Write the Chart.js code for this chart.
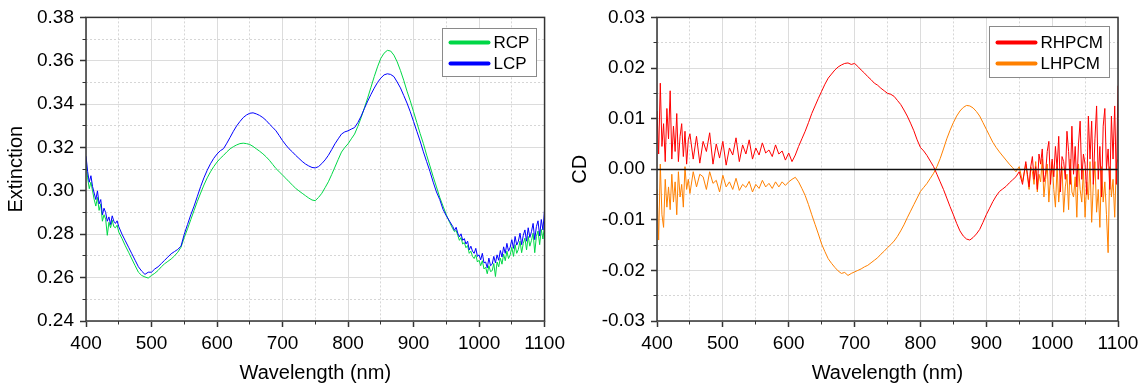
<!DOCTYPE html>
<html>
<head>
<meta charset="utf-8">
<script src="https://cdn.jsdelivr.net/npm/chart.js@4.4.1/dist/chart.umd.min.js"></script>
<style>
  html, body { margin: 0; padding: 0; background: #fff; }
  body { width: 1147px; height: 390px; position: relative; overflow: hidden; }
  #leftWrap { position: absolute; left: 0; top: 0; width: 570px; height: 390px; }
  #rightWrap { position: absolute; left: 565px; top: 0; width: 582px; height: 390px; }
</style>
</head>
<body>
<div id="leftWrap"><canvas id="left" width="570" height="390"></canvas></div>
<div id="rightWrap"><canvas id="right" width="582" height="390"></canvas></div>
<script>
// ---------- DATA ----------
// wavelength samples (nm): denser in the noisy ends of the spectrum
const wavelengths = [
  400,402.5,405,407.5,410,412.5,415,417.5,420,422.5,425,427.5,430,432.5,435,437.5,440,442.5,445,447.5,
  450,455,460,465,470,475,480,485,490,495,500,505,510,515,520,525,530,535,540,545,
  550,555,560,565,570,575,580,585,590,595,600,605,610,615,620,625,630,635,640,645,
  650,655,660,665,670,675,680,685,690,695,700,705,710,715,720,725,730,735,740,745,
  750,755,760,765,770,775,780,785,790,795,800,805,810,815,820,825,830,835,840,845,
  850,855,860,865,870,875,880,885,890,895,900,905,910,915,920,925,930,935,940,945,950,955,
  960,962.5,965,967.5,970,972.5,975,977.5,980,982.5,985,987.5,990,992.5,995,997.5,1000,1002.5,1005,1007.5,
  1010,1012.5,1015,1017.5,1020,1022.5,1025,1027.5,1030,1032.5,1035,1037.5,1040,1042.5,1045,1047.5,1050,1052.5,1055,1057.5,
  1060,1062.5,1065,1067.5,1070,1072.5,1075,1077.5,1080,1082.5,1085,1087.5,1090,1092.5,1095,1097.5,
  1100
];

// Extinction, right circular polarization
const rcp = [
  0.313,0.306,0.301,0.304,0.300,0.296,0.293,0.297,0.291,0.294, 0.286,0.289,0.287,0.2795,0.2855,0.283,0.2865,0.2835,0.283,0.2842,
  0.281,0.278,0.2747,0.2717,0.2686,0.2655,0.2625,0.261,0.2603,0.2598, 0.261,0.262,0.2633,0.265,0.2664,0.2675,0.2686,0.270,0.2717,0.274,
  0.2785,0.2825,0.2868,0.291,0.2952,0.299,0.3027,0.306,0.3088,0.3112, 0.3133,0.315,0.3164,0.318,0.3194,0.3204,0.3212,0.3218,0.322,0.3218,
  0.3214,0.3205,0.3194,0.3183,0.3171,0.3157,0.3141,0.3122,0.3103,0.3088, 0.3073,0.3058,0.3042,0.3027,0.3012,0.300,0.2989,0.2978,0.2967,0.2958,
  0.2955,0.297,0.2989,0.3015,0.3042,0.3075,0.311,0.3145,0.3179,0.320, 0.3217,0.324,0.3262,0.3298,0.3338,0.3383,0.3429,0.3478,0.3527,0.3572,
  0.3611,0.3635,0.3648,0.3645,0.3626,0.3595,0.3555,0.351,0.346,0.3415, 0.3365,0.3315,0.3265,0.3218,0.3165,0.3115,0.3065,0.3018,0.297,0.293, 0.289,0.2855,
  0.2825,0.2812,0.2818,0.2795,0.2772,0.2785,0.2755,0.2762,0.2738,0.2748, 0.2712,0.2722,0.2698,0.2688,0.2705,0.2672,0.2680,0.2655,0.2678,0.2640,
  0.2648,0.2618,0.2655,0.2628,0.2632,0.2665,0.2605,0.2672,0.2650,0.2690, 0.2662,0.2708,0.2678,0.2722,0.2688,0.2705,0.2740,0.2698,0.2752,0.2712,
  0.2730,0.2768,0.2715,0.2758,0.2782,0.2728,0.2790,0.2745,0.2772,0.2805, 0.2715,0.2790,0.2815,0.2752,0.2822,0.2778,
  0.2845
];

// Extinction, left circular polarization
const lcp = [
  0.316,0.309,0.304,0.307,0.302,0.299,0.296,0.300,0.294,0.296, 0.289,0.292,0.290,0.286,0.288,0.2845,0.2885,0.286,0.285,0.2862,
  0.2835,0.280,0.277,0.274,0.271,0.268,0.265,0.263,0.2615,0.2625, 0.2625,0.264,0.265,0.2665,0.268,0.2695,0.271,0.272,0.273,0.2745,
  0.280,0.2845,0.289,0.293,0.2975,0.302,0.306,0.3095,0.3125,0.315, 0.317,0.3185,0.3195,0.322,0.3247,0.3275,0.330,0.332,0.3338,0.335,
  0.3358,0.336,0.3355,0.3348,0.3338,0.3325,0.3308,0.3293,0.3277,0.3255, 0.3232,0.3212,0.3194,0.318,0.3164,0.315,0.3136,0.3124,0.3115,0.3108,
  0.3106,0.3112,0.3126,0.3143,0.3164,0.319,0.3217,0.324,0.3262,0.3272, 0.3277,0.3285,0.3292,0.3315,0.3345,0.338,0.3414,0.3445,0.3474,0.350,
  0.352,0.3535,0.354,0.3537,0.3527,0.3502,0.3475,0.344,0.3405,0.3365, 0.332,0.3275,0.323,0.318,0.3135,0.309,0.304,0.2995,0.296,0.2915, 0.2885,0.286,
  0.2835,0.2818,0.2832,0.2805,0.2788,0.2802,0.2772,0.2780,0.2755,0.2768, 0.2728,0.2745,0.2722,0.2712,0.2735,0.2698,0.2705,0.2682,0.2712,0.2668,
  0.2672,0.2645,0.2690,0.2655,0.2662,0.2698,0.2668,0.2705,0.2680,0.2725, 0.2695,0.2742,0.2712,0.2758,0.2722,0.2740,0.2775,0.2735,0.2790,0.2750,
  0.2768,0.2805,0.2752,0.2795,0.2820,0.2768,0.2830,0.2785,0.2812,0.2850, 0.2775,0.2835,0.2862,0.2792,0.2868,0.2820,
  0.2915
];

// CD, right-handed
const rhpcm = [
  0.0115,0.003,0.017,0.0045,0.009,0.0015,0.012,0.006,0.0155,0.002, 0.0085,0.0035,0.011,0.0015,0.0065,0.009,0.0025,0.0075,0.001,0.0058,
  0.007,0.002,0.0065,0.0012,0.0055,0.0035,0.0072,0.001,0.005,0.0022, 0.0055,0.0008,0.0042,0.0028,0.0062,0.0015,0.0048,0.003,0.0058,0.002,
  0.0042,0.0028,0.0052,0.0032,0.0038,0.0025,0.0048,0.003,0.0036,0.0018, 0.0032,0.0015,0.0028,0.0045,0.006,0.0075,0.0092,0.011,0.0125,0.014,
  0.0154,0.0168,0.018,0.0188,0.0196,0.0202,0.0206,0.0209,0.021,0.0207, 0.0209,0.0203,0.0196,0.019,0.0183,0.0177,0.017,0.0166,0.016,0.0155,
  0.015,0.0148,0.0144,0.0136,0.0128,0.0117,0.0105,0.0091,0.0076,0.0058, 0.0043,0.0036,0.0027,0.0016,0.0005,-0.001,-0.0025,-0.004,-0.0057,-0.0074,
  -0.009,-0.0107,-0.0122,-0.0132,-0.0138,-0.014,-0.0135,-0.0128,-0.0119,-0.0105, -0.009,-0.0077,-0.0064,-0.0053,-0.0044,-0.0039,-0.0034,-0.0027,-0.0021,-0.0015, -0.0005,-0.003,
  0.0015,-0.001,-0.0035,0.0005,0.0025,-0.002,0.0005,-0.004,0.003,0.001, 0.004,-0.0025,-0.001,0.0035,0.0055,-0.003,0.002,-0.0015,0.0045,0.0,
  0.0065,-0.0045,0.0025,0.0015,-0.002,0.0075,0.0035,-0.003,0.0085,-0.001, 0.0045,-0.0035,0.005,0.0095,-0.002,0.003,0.001,-0.005,0.0105,0.002,
  0.0095,-0.003,0.006,0.0125,-0.002,0.0045,-0.0055,0.0085,0.012,0.0, 0.004,-0.004,0.0105,0.002,0.0125,-0.003,
  0.0165
];

// CD, left-handed
const lhpcm = [
  -0.004,-0.014,0.001,-0.009,-0.0115,-0.002,-0.0075,-0.0035,-0.008,-0.001, -0.0065,-0.0025,-0.009,-0.0005,-0.0055,-0.003,-0.0075,0.0005,-0.004,-0.002,
  -0.0048,-0.0005,-0.0035,-0.001,-0.0015,-0.004,-0.0005,-0.0028,-0.0022,-0.0045, -0.0012,-0.0035,-0.0025,-0.004,-0.0018,-0.0042,-0.003,-0.0036,-0.0024,-0.0045,
  -0.003,-0.0038,-0.0022,-0.0035,-0.0028,-0.0038,-0.0025,-0.0035,-0.0025,-0.0032, -0.0025,-0.002,-0.0016,-0.0025,-0.0038,-0.0052,-0.007,-0.009,-0.0109,-0.0128,
  -0.0148,-0.0163,-0.0177,-0.0186,-0.0194,-0.0201,-0.0206,-0.0204,-0.021,-0.0206, -0.0203,-0.020,-0.0197,-0.0193,-0.019,-0.0185,-0.018,-0.0175,-0.0168,-0.0162,
  -0.0155,-0.0149,-0.0142,-0.0133,-0.0122,-0.011,-0.0096,-0.0083,-0.007,-0.0057, -0.0044,-0.0036,-0.0028,-0.0018,-0.0008,0.0005,0.0021,0.004,0.006,0.0077,
  0.0092,0.0105,0.0115,0.0122,0.0126,0.0125,0.0121,0.0114,0.0105,0.0092, 0.0079,0.0066,0.0053,0.0043,0.0034,0.0026,0.0018,0.001,0.0003,-0.0005, 0.0005,-0.0025,
  0.001,-0.0015,-0.004,0.0005,-0.0005,-0.003,0.0015,-0.0045,-0.001,-0.0025, 0.002,-0.0055,-0.002,0.001,-0.0065,-0.0015,0.0015,-0.004,-0.0075,0.0005,
  -0.0065,-0.002,0.0005,-0.0085,-0.0035,-0.001,-0.008,0.002,-0.0045,-0.0055, -0.0015,-0.0095,0.001,-0.004,-0.0065,0.0,-0.0095,-0.0025,-0.006,0.0015,
  -0.0105,-0.003,0.0015,-0.0085,-0.004,-0.0115,0.0005,-0.0065,-0.0025,-0.009, -0.0165,0.0005,-0.0055,-0.002,-0.0095,0.001,
  0.002
];

const xMinorTicks = [450, 550, 650, 750, 850, 950, 1050];
const extMinorTicks = [0.25, 0.27, 0.29, 0.31, 0.33, 0.35, 0.37];
const cdMinorTicks = [-0.025, -0.015, -0.005, 0.005, 0.015, 0.025];

const leftNames = ['RCP', 'LCP'];
const rightNames = ['RHPCM', 'LHPCM'];
const leftColors = ['rgb(0,215,70)', 'rgb(0,0,255)'];
const rightColors = ['rgb(255,0,0)', 'rgb(255,128,0)'];

// ---------- STYLE ----------
const FONT = '"Liberation Sans", Arial, Helvetica, sans-serif';

function toPoints(ys) { return wavelengths.map((w, i) => ({ x: w, y: ys[i] })); }

const minorPlugin = {
  id: 'minorGrid',
  beforeDatasetsDraw(chart, args, opts) {
    const { ctx, chartArea: a, scales: { x, y } } = chart;
    ctx.save();
    ctx.lineWidth = 1;
    ctx.strokeStyle = '#d6d6d6';
    ctx.setLineDash([2, 2]);
    opts.xMinor.forEach(v => {
      const px = Math.round(x.getPixelForValue(v) - 0.5) + 0.5;
      ctx.beginPath(); ctx.moveTo(px, a.top); ctx.lineTo(px, a.bottom); ctx.stroke();
    });
    opts.yMinor.forEach(v => {
      const py = Math.round(y.getPixelForValue(v) - 0.5) + 0.5;
      ctx.beginPath(); ctx.moveTo(a.left, py); ctx.lineTo(a.right, py); ctx.stroke();
    });
    ctx.setLineDash([]);
    ctx.strokeStyle = '#333';
    opts.xMinor.forEach(v => {
      const px = Math.round(x.getPixelForValue(v) - 0.5) + 0.5;
      ctx.beginPath(); ctx.moveTo(px, a.bottom); ctx.lineTo(px, a.bottom + 3.5); ctx.stroke();
    });
    opts.yMinor.forEach(v => {
      const py = Math.round(y.getPixelForValue(v) - 0.5) + 0.5;
      ctx.beginPath(); ctx.moveTo(a.left - 3.5, py); ctx.lineTo(a.left, py); ctx.stroke();
    });
    ctx.restore();
  },
  afterDatasetsDraw(chart, args, opts) {
    const { ctx, chartArea: a, scales: { y } } = chart;
    ctx.save();
    if (opts.zeroLine) {
      const py = Math.round(y.getPixelForValue(0) - 0.5) + 0.5;
      ctx.strokeStyle = '#111'; ctx.lineWidth = 1.5;
      ctx.beginPath(); ctx.moveTo(a.left, py); ctx.lineTo(a.right, py); ctx.stroke();
    }
    ctx.strokeStyle = '#333'; ctx.lineWidth = 1.5;
    ctx.strokeRect(a.left, a.top, a.right - a.left, a.bottom - a.top);
    ctx.restore();
  }
};

const boxLegendPlugin = {
  id: 'boxLegend',
  afterDraw(chart, args, opts) {
    const { ctx, chartArea: a } = chart;
    const ds = chart.data.datasets;
    ctx.save();
    ctx.font = '17px ' + FONT;
    const tw = Math.max(...ds.map(d => ctx.measureText(d.label).width));
    const w = Math.round(7 + 40 + 4 + tw + 7);
    const x0 = Math.round(a.right - 9 - w) + 0.5;
    const y0 = Math.round(a.top + opts.top) + 0.5;
    ctx.fillStyle = '#fff';
    ctx.fillRect(x0, y0, w, opts.height);
    ctx.strokeStyle = '#8a8a8a'; ctx.lineWidth = 1;
    ctx.strokeRect(x0, y0, w, opts.height);
    ds.forEach((d, i) => {
      const cy = y0 + opts.row0 + i * 21;
      ctx.strokeStyle = d.borderColor; ctx.lineWidth = 4; ctx.lineCap = 'round';
      ctx.beginPath(); ctx.moveTo(x0 + 8, cy); ctx.lineTo(x0 + 46, cy); ctx.stroke();
      ctx.fillStyle = '#000'; ctx.textBaseline = 'middle'; ctx.textAlign = 'left';
      ctx.fillText(d.label, x0 + 51, cy + 1);
    });
    ctx.restore();
  }
};

function makeOptions(cfg) {
  return {
    responsive: false,
    animation: false,
    devicePixelRatio: 1,
    layout: { padding: { top: 13, right: cfg.padRight, bottom: 0, left: 0 } },
    plugins: {
      legend: { display: false },
      tooltip: { enabled: false },
      minorGrid: { xMinor: xMinorTicks, yMinor: cfg.yMinor, zeroLine: cfg.zeroLine },
      boxLegend: cfg.legend
    },
    elements: { point: { radius: 0 }, line: { borderWidth: 1, tension: 0 } },
    scales: {
      x: {
        type: 'linear', min: 400, max: 1100,
        afterFit(scale) { scale.height = 69; },
        ticks: { stepSize: 100, maxRotation: 0, autoSkip: false, padding: 5, color: '#000',
                 font: { family: FONT, size: 19 }, callback: v => String(v) },
        grid: { color: '#dcdcdc', lineWidth: 1, tickColor: '#333', tickLength: 6, tickWidth: 1.5 },
        border: { display: false },
        title: { display: true, text: 'Wavelength (nm)', color: '#000',
                 font: { family: FONT, size: 20 }, padding: { top: 0, bottom: 5 } }
      },
      y: {
        type: 'linear', min: cfg.yMin, max: cfg.yMax,
        afterFit(scale) { scale.width = cfg.yWidth; },
        ticks: { stepSize: cfg.yStep, padding: 6, color: '#000', font: { family: FONT, size: 19 },
                 callback: v => (Math.abs(v) < 1e-9 ? 0 : v).toFixed(2) },
        grid: { color: '#dcdcdc', lineWidth: 1, tickColor: '#333', tickLength: 6, tickWidth: 1.5 },
        border: { display: false },
        title: { display: true, text: cfg.yTitle, color: '#000',
                 font: { family: FONT, size: 20 }, padding: { top: cfg.yTitlePad, bottom: 0 } }
      }
    }
  };
}

new Chart(document.getElementById('left'), {
  type: 'line',
  data: {
    datasets: [
      { label: leftNames[0], data: toPoints(rcp), borderColor: leftColors[0], backgroundColor: leftColors[0], order: 1 },
      { label: leftNames[1], data: toPoints(lcp), borderColor: leftColors[1], backgroundColor: leftColors[1], order: 0 }
    ]
  },
  options: makeOptions({ yMin: 0.24, yMax: 0.38, yStep: 0.02, yMinor: extMinorTicks, yTitle: 'Extinction',
                         yWidth: 86, padRight: 23, yTitlePad: 4, zeroLine: false,
                         legend: { top: 11, height: 48, row0: 14 } }),
  plugins: [minorPlugin, boxLegendPlugin]
});

new Chart(document.getElementById('right'), {
  type: 'line',
  data: {
    datasets: [
      { label: rightNames[0], data: toPoints(rhpcm), borderColor: rightColors[0], backgroundColor: rightColors[0] },
      { label: rightNames[1], data: toPoints(lhpcm), borderColor: rightColors[1], backgroundColor: rightColors[1] }
    ]
  },
  options: makeOptions({ yMin: -0.03, yMax: 0.03, yStep: 0.01, yMinor: cdMinorTicks, yTitle: 'CD',
                         yWidth: 92, padRight: 29, yTitlePad: 3, zeroLine: true,
                         legend: { top: 9, height: 51, row0: 16 } }),
  plugins: [minorPlugin, boxLegendPlugin]
});
</script>
</body>
</html>
